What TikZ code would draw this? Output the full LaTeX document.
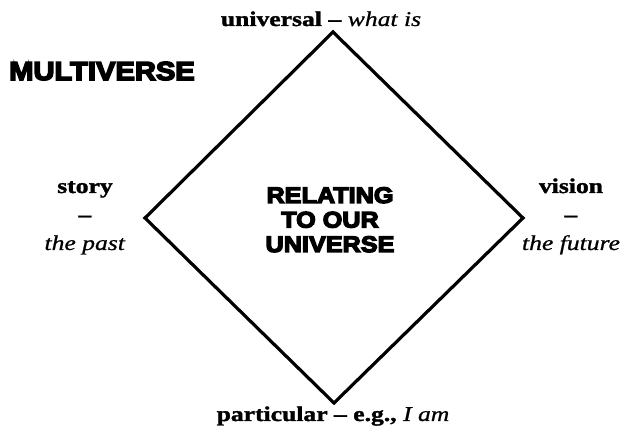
\documentclass[tikz,border=0pt]{standalone}
\usepackage{fontspec}
\setmainfont{Liberation Serif}[FakeStretch=1.22, BoldFeatures={FakeBold=1.5}, ItalicFeatures={FakeBold=0.8}]
\newfontfamily\heavy{Liberation Sans Bold}[FakeStretch=1.12, FakeBold=6]
\begin{document}
\begin{tikzpicture}[x=1pt,y=1pt,
  lbl/.style={inner sep=0pt, anchor=base, font=\fontsize{21}{28.5}\selectfont, align=center},
  heavytxt/.style={inner sep=0pt, anchor=base, align=center},
  frame/.style={line width=3.2pt, black}]
\useasboundingbox (0,0) rectangle (624,428);
\coordinate (T) at (333,396);
\coordinate (R) at (523,210);
\coordinate (B) at (334,25);
\coordinate (L) at (145,210);
\draw[frame] (T) -- (R) -- (B) -- (L) -- cycle;
\node[lbl] (top) at (321,402) {\textbf{universal --} \textit{what is}};
\node[lbl] (bot) at (333,7) {\textbf{particular -- e.g.,} \textit{I am}};
\node[lbl] (left) at (85,178) {\textbf{story}\\\textbf{--}\\\textit{the past}};
\node[lbl] (right) at (571,178) {\textbf{vision}\\\textbf{--}\\\textit{the future}};
\node[heavytxt, font=\heavy\fontsize{26}{30}\selectfont] (multi) at (102,348) {MULTIVERSE};
\node[heavytxt, font=\heavy\fontsize{22.5}{24.5}\selectfont] (center) at (330,176) {RELATING\\TO OUR\\UNIVERSE};
\end{tikzpicture}
\end{document}
